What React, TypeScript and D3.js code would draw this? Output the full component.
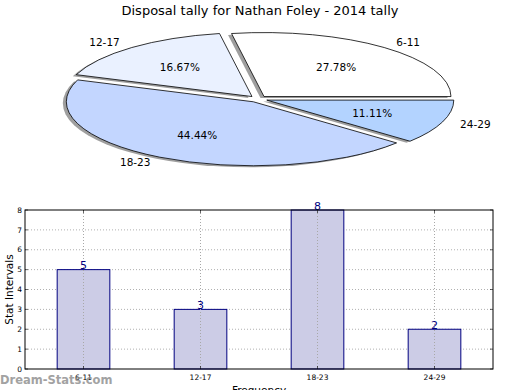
import { useEffect, useRef } from 'react'
import * as d3 from 'd3'

const WIDTH = 520
const HEIGHT = 390

const categories = ['6-11', '12-17', '18-23', '24-29']
const counts = [5, 3, 8, 2]
const sliceColors = ['#ffffff', '#eaf1ff', '#c3d6ff', '#b3d3ff']
const yTicks = [0, 1, 2, 3, 4, 5, 6, 7, 8]

const FONT = 'DejaVu Sans, sans-serif'

export default function App() {
  const svgRef = useRef<SVGSVGElement | null>(null)

  useEffect(() => {
    if (!svgRef.current) {
      return
    }
    const svg = d3.select(svgRef.current)
    svg.selectAll('*').remove()

    svg
      .append('rect')
      .attr('width', WIDTH)
      .attr('height', HEIGHT)
      .attr('fill', '#ffffff')

    svg
      .append('text')
      .attr('x', 260)
      .attr('y', 15)
      .attr('text-anchor', 'middle')
      .attr('font-family', FONT)
      .attr('font-size', 13)
      .attr('fill', '#000')
      .text('Disposal tally for Nathan Foley - 2014 tally')

    // pie (elliptical, matplotlib style)
    const cx = 258
    const cy = 99
    const rx = 187
    const ry = 64
    const explode = 0.05
    const total = d3.sum(counts)

    const arcs = d3
      .pie<number>()
      .sort(null)
      .startAngle(0)
      .endAngle(Math.PI * 2)(counts)

    const slicePath = (a0: number, a1: number, ox: number, oy: number) => {
      const x0 = ox + rx * Math.cos(a0)
      const y0 = oy - ry * Math.sin(a0)
      const x1 = ox + rx * Math.cos(a1)
      const y1 = oy - ry * Math.sin(a1)
      const large = a1 - a0 > Math.PI ? 1 : 0
      return `M${ox},${oy}L${x0},${y0}A${rx},${ry} 0 ${large} 0 ${x1},${y1}Z`
    }

    const sliceData = arcs.map((arc, index) => {
      const mid = (arc.startAngle + arc.endAngle) / 2
      const ox = cx + explode * rx * Math.cos(mid)
      const oy = cy - explode * ry * Math.sin(mid)
      return { arc, index, mid, ox, oy }
    })

    const pie = svg.append('g')

    pie
      .selectAll('path.shadow')
      .data(sliceData)
      .enter()
      .append('path')
      .attr('class', 'shadow')
      .attr('d', (d) => slicePath(d.arc.startAngle, d.arc.endAngle, d.ox - 3.5, d.oy + 1.5))
      .attr('fill', '#7f7f7f')
      .attr('opacity', 0.75)

    pie
      .selectAll('path.slice')
      .data(sliceData)
      .enter()
      .append('path')
      .attr('class', 'slice')
      .attr('d', (d) => slicePath(d.arc.startAngle, d.arc.endAngle, d.ox, d.oy))
      .attr('fill', (d) => sliceColors[d.index])
      .attr('stroke', '#000')
      .attr('stroke-width', 0.8)
      .attr('stroke-linejoin', 'miter')

    pie
      .selectAll('text.label')
      .data(sliceData)
      .enter()
      .append('text')
      .attr('class', 'label')
      .attr('x', (d) => d.ox + 1.1 * rx * Math.cos(d.mid))
      .attr('y', (d) => d.oy - 1.1 * ry * Math.sin(d.mid))
      .attr('dy', '0.35em')
      .attr('text-anchor', (d) => (Math.cos(d.mid) > 0 ? 'start' : 'end'))
      .attr('font-family', FONT)
      .attr('font-size', 10.5)
      .attr('fill', '#000')
      .text((d) => categories[d.index])

    pie
      .selectAll('text.pct')
      .data(sliceData)
      .enter()
      .append('text')
      .attr('class', 'pct')
      .attr('x', (d) => d.ox + 0.6 * rx * Math.cos(d.mid))
      .attr('y', (d) => d.oy - 0.6 * ry * Math.sin(d.mid))
      .attr('dy', '0.35em')
      .attr('text-anchor', 'middle')
      .attr('font-family', FONT)
      .attr('font-size', 10.5)
      .attr('fill', '#000')
      .text((d) => `${((counts[d.index] / total) * 100).toFixed(2)}%`)

    // bar chart
    const left = 25
    const right = 493
    const top = 210
    const bottom = 369

    const x = d3
      .scaleBand<string>()
      .domain(categories)
      .range([left, right])
      .paddingInner(0.55)
      .paddingOuter(0.275)
    const y = d3.scaleLinear().domain([0, 8]).range([bottom, top])

    const bars = svg.append('g')

    bars
      .selectAll('line.hgrid')
      .data(yTicks.slice(1, -1))
      .enter()
      .append('line')
      .attr('x1', left)
      .attr('x2', right)
      .attr('y1', (d) => y(d))
      .attr('y2', (d) => y(d))
      .attr('stroke', '#b0b0b0')
      .attr('stroke-width', 1)
      .attr('stroke-dasharray', '1,2')

    bars
      .selectAll('rect.bar')
      .data(categories)
      .enter()
      .append('rect')
      .attr('class', 'bar')
      .attr('x', (d) => x(d) ?? 0)
      .attr('y', (_, i) => y(counts[i]))
      .attr('width', x.bandwidth())
      .attr('height', (_, i) => bottom - y(counts[i]))
      .attr('fill', '#ccccE6')
      .attr('stroke', '#000080')
      .attr('stroke-width', 1)

    bars
      .selectAll('line.vgrid')
      .data(categories)
      .enter()
      .append('line')
      .attr('x1', (d) => (x(d) ?? 0) + x.bandwidth() / 2)
      .attr('x2', (d) => (x(d) ?? 0) + x.bandwidth() / 2)
      .attr('y1', top)
      .attr('y2', bottom)
      .attr('stroke', '#a8a8a8')
      .attr('stroke-width', 1)
      .attr('stroke-dasharray', '1,2')

    bars
      .selectAll('text.value')
      .data(categories)
      .enter()
      .append('text')
      .attr('x', (d) => (x(d) ?? 0) + x.bandwidth() / 2)
      .attr('y', (_, i) => y(counts[i]) - 0.5)
      .attr('text-anchor', 'middle')
      .attr('font-family', FONT)
      .attr('font-size', 11)
      .attr('fill', '#000080')
      .text((_, i) => String(counts[i]))

    bars
      .append('rect')
      .attr('x', left)
      .attr('y', top)
      .attr('width', right - left)
      .attr('height', bottom - top)
      .attr('fill', 'none')
      .attr('stroke', '#000')
      .attr('stroke-width', 1)

    // y ticks
    const yTickG = bars
      .selectAll('g.ytick')
      .data(yTicks)
      .enter()
      .append('g')
      .attr('transform', (d) => `translate(0,${y(d)})`)
    yTickG
      .append('line')
      .attr('x1', left)
      .attr('x2', left + 3)
      .attr('stroke', '#000')
      .attr('stroke-width', 0.6)
    yTickG
      .append('line')
      .attr('x1', right)
      .attr('x2', right - 3)
      .attr('stroke', '#000')
      .attr('stroke-width', 0.6)
    yTickG
      .append('text')
      .attr('x', left - 3)
      .attr('dy', '0.35em')
      .attr('text-anchor', 'end')
      .attr('font-family', FONT)
      .attr('font-size', 7.5)
      .attr('fill', '#000')
      .text((d) => String(d))

    // x ticks
    const xTickG = bars
      .selectAll('g.xtick')
      .data(categories)
      .enter()
      .append('g')
      .attr('transform', (d) => `translate(${(x(d) ?? 0) + x.bandwidth() / 2},0)`)
    xTickG
      .append('line')
      .attr('y1', bottom)
      .attr('y2', bottom - 3)
      .attr('stroke', '#000')
      .attr('stroke-width', 0.6)
    xTickG
      .append('line')
      .attr('y1', top)
      .attr('y2', top + 3)
      .attr('stroke', '#000')
      .attr('stroke-width', 0.6)
    xTickG
      .append('text')
      .attr('y', bottom + 11)
      .attr('text-anchor', 'middle')
      .attr('font-family', FONT)
      .attr('font-size', 7.5)
      .attr('fill', '#000')
      .text((d) => d)

    svg
      .append('text')
      .attr('transform', `translate(13,${(top + bottom) / 2}) rotate(-90)`)
      .attr('text-anchor', 'middle')
      .attr('font-family', FONT)
      .attr('font-size', 10.5)
      .attr('fill', '#000')
      .text('Stat Intervals')

    svg
      .append('text')
      .attr('x', (left + right) / 2)
      .attr('y', 394)
      .attr('text-anchor', 'middle')
      .attr('font-family', FONT)
      .attr('font-size', 10.5)
      .attr('fill', '#000')
      .text('Frequency')

    svg
      .append('text')
      .attr('x', 0)
      .attr('y', 384)
      .attr('font-family', FONT)
      .attr('font-size', 11.5)
      .attr('font-weight', 'bold')
      .attr('fill', '#8c8c8c')
      .attr('opacity', 0.8)
      .text('Dream-Stats.com')
  }, [])

  return (
    <svg
      ref={svgRef}
      width={WIDTH}
      height={HEIGHT}
      style={{ position: 'absolute', left: 0, top: 0 }}
    />
  )
}
